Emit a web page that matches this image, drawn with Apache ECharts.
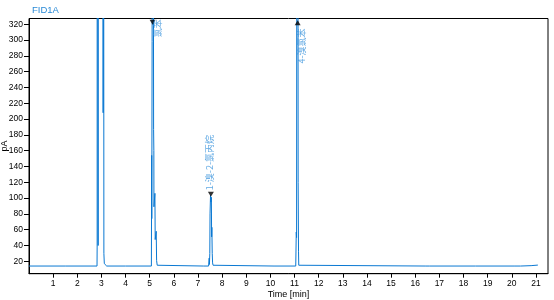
<!DOCTYPE html>
<html>
<head>
<meta charset="utf-8">
<script src="https://cdn.jsdelivr.net/npm/echarts@6/dist/echarts.min.js"></script>
<style>
html,body{margin:0;padding:0;background:#fff;}
#chart{width:554px;height:300px;}
</style>
</head>
<body>
<div id="chart"></div>
<script>
// ---- data ----
const traceTime = [
  0.00, 1.50, 2.818,
  2.823, 2.826, 2.860, 2.864, 2.868, 3.068, 3.071, 3.076, 3.098, 3.102, 3.120, 3.150, 3.220,
  4.00, 5.070,
  5.079, 5.082, 5.086, 5.100, 5.110, 5.130, 5.162, 5.172, 5.176, 5.216, 5.228, 5.270, 5.286, 5.311, 5.360,
  7.240, 7.250, 7.260, 7.440,
  7.465, 7.475, 7.490, 7.500, 7.520, 7.540, 7.555, 7.565, 7.575, 7.590, 7.605, 7.625, 7.660,
  10.150, 10.160, 10.170, 11.050,
  11.066, 11.072, 11.085, 11.120, 11.140, 11.150, 11.165, 11.168, 11.175, 11.200, 11.250,
  16.440, 16.460, 16.480, 16.520, 16.600, 18.500, 18.520, 18.540, 20.130, 20.140, 20.150,
  20.360, 20.380, 20.400, 20.800, 20.830, 21.080
];
const traceSignal = [
  14.0, 14.0, 14.0,
  38, 1500, 1500, 40, 1500, 1500, 208, 1500, 1500, 30, 17, 15, 14.0,
  14.0, 14.0,
  14.5, 154, 74, 298, 1500, 1500, 187, 160, 89, 106, 47.5, 58, 21, 15, 14.0,
  14.0, 15.2, 14.0, 14.0,
  24, 16, 30, 80, 103.5, 95, 101, 51, 63, 30, 18, 15, 14.0,
  14.0, 15.5, 14.0, 14.0,
  15, 57, 50, 1500, 1500, 120, 32, 32, 15, 14.5, 14.0,
  14.0, 16.5, 15.5, 14.5, 14.0, 14.0, 15, 14.0, 14.0, 15, 14.0,
  14.0, 15.3, 14.5, 14.5, 15.2, 15.2
];
const peakTime = [5.12, 7.535, 11.13];
const peakMarkValue = [322.5, 105, 322];
const peakNames = ['氯苯', '1-溴-2-氯丙烷', '4-溴氯苯'];
const peakMarkDir = ['down', 'down', 'up'];
const yTicks = [20, 40, 60, 80, 100, 120, 140, 160, 180, 200, 220, 240, 260, 280, 300, 320];
const xTicks = [1, 2, 3, 4, 5, 6, 7, 8, 9, 10, 11, 12, 13, 14, 15, 16, 17, 18, 19, 20, 21];
const titleText = 'FID1A';
const xName = 'Time [min]';
const yName = 'pA';

// ---- chart ----
const lineColor = '#0a78d2';
const labelColor = '#3a94dc';
const labelStyles = [
  {align: 'right', offset: [3, 5.3]},
  {align: 'left', offset: [3.8, -1]},
  {align: 'right', offset: [-5.7, 4]}
];

const traceData = traceTime.map((t, i) => [t, traceSignal[i]]);
const markData = peakTime.map((t, i) => ({
  value: [t, peakMarkValue[i]],
  name: peakNames[i],
  symbolRotate: peakMarkDir[i] === 'down' ? 180 : 0,
  label: {
    show: true,
    formatter: peakNames[i],
    position: 'inside',
    rotate: 90,
    align: labelStyles[i].align,
    verticalAlign: 'middle',
    offset: labelStyles[i].offset,
    color: labelColor,
    fontSize: 9,
    fontFamily: '"Noto Sans CJK SC", sans-serif'
  }
}));

const chart = echarts.init(document.getElementById('chart'), null, {renderer: 'canvas'});
chart.setOption({
  animation: false,
  backgroundColor: '#ffffff',
  title: {
    text: titleText,
    left: 32,
    top: 5,
    padding: 0,
    textStyle: {color: '#2a8ad6', fontSize: 9.5, fontWeight: 'normal', fontFamily: 'Liberation Sans, Arial, sans-serif'}
  },
  grid: {
    left: 29, right: 6, top: 18.5, bottom: 26.3,
    containLabel: false,
    outerBoundsMode: 'none',
    show: true, borderColor: '#000', borderWidth: 1, backgroundColor: 'transparent'
  },
  xAxis: {
    type: 'value',
    min: 0, max: 21.5,
    name: xName,
    nameLocation: 'middle',
    nameGap: 16,
    nameMoveOverlap: false,
    nameTextStyle: {color: '#000', fontSize: 9, fontFamily: 'Liberation Sans, Arial, sans-serif'},
    axisLine: {show: true, onZero: false, lineStyle: {color: '#000', width: 1}},
    axisTick: {show: true, length: 4, inside: false, customValues: xTicks, lineStyle: {color: '#000'}},
    axisLabel: {show: true, customValues: xTicks, margin: 5, color: '#000', fontSize: 8.5, fontFamily: 'Liberation Sans, Arial, sans-serif'},
    splitLine: {show: false}
  },
  yAxis: {
    type: 'value',
    min: 4.3, max: 327.3,
    name: yName,
    nameLocation: 'middle',
    nameGap: 20,
    nameRotate: 90,
    nameMoveOverlap: false,
    nameTextStyle: {color: '#000', fontSize: 9, fontFamily: 'Liberation Sans, Arial, sans-serif'},
    axisLine: {show: true, onZero: false, lineStyle: {color: '#000', width: 1}},
    axisTick: {show: true, length: 5, inside: false, customValues: yTicks, lineStyle: {color: '#000'}},
    axisLabel: {show: true, customValues: yTicks, margin: 6, color: '#000', fontSize: 8.5, fontFamily: 'Liberation Sans, Arial, sans-serif'},
    splitLine: {show: false}
  },
  series: [
    {
      type: 'line',
      data: traceData,
      showSymbol: false,
      symbol: 'none',
      clip: true,
      lineStyle: {color: lineColor, width: 1},
      z: 2
    },
    {
      type: 'scatter',
      data: markData,
      symbol: 'triangle',
      symbolSize: [6, 5],
      itemStyle: {color: '#000'},
      clip: false,
      z: 3
    }
  ]
});
</script>
</body>
</html>
